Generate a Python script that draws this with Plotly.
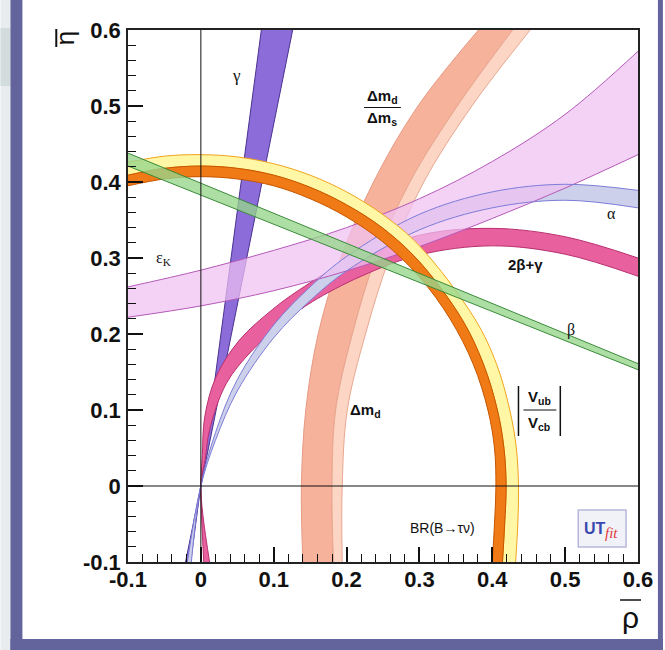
import plotly.graph_objects as go

# ---------------- data (rho-bar, eta-bar) ----------------
# gamma band (two straight edges through the origin)
gam_a_rho = [-0.014, 0.0, 0.083]
gam_a_eta = [-0.1, 0.0, 0.6]
gam_b_rho = [-0.021, 0.0, 0.126]
gam_b_eta = [-0.1, 0.0, 0.6]

# |Vub/Vcb| (yellow) and BR(B->tau nu) (orange) circular bands
vub_in_rho = [-0.1, -0.05, 0.0, 0.05, 0.1, 0.15, 0.2, 0.25, 0.3, 0.342, 0.374, 0.394, 0.403, 0.405, 0.403, 0.400]
vub_in_eta = [0.395, 0.404, 0.407, 0.404, 0.395, 0.378, 0.354, 0.321, 0.275, 0.22, 0.16, 0.1, 0.05, 0.0, -0.05, -0.1]
vub_mid_rho = [-0.1, -0.05, 0.0, 0.05, 0.1, 0.15, 0.2, 0.25, 0.3, 0.358, 0.388, 0.407, 0.416, 0.419, 0.417, 0.414]
vub_mid_eta = [0.409, 0.418, 0.421, 0.418, 0.409, 0.393, 0.370, 0.339, 0.295, 0.22, 0.16, 0.1, 0.05, 0.0, -0.05, -0.1]
vub_out_rho = [-0.1, -0.05, 0.0, 0.05, 0.1, 0.15, 0.2, 0.25, 0.3, 0.376, 0.406, 0.424, 0.433, 0.436, 0.435, 0.432]
vub_out_eta = [0.426, 0.434, 0.436, 0.433, 0.424, 0.409, 0.387, 0.357, 0.316, 0.22, 0.16, 0.1, 0.05, 0.0, -0.05, -0.1]

# Delta m_d and Delta m_d / Delta m_s bands
dm_eta = [-0.1, 0.0, 0.1, 0.2, 0.3, 0.4, 0.5, 0.6]
dmd_out_rho = [0.140, 0.138, 0.144, 0.161, 0.192, 0.237, 0.298, 0.381]
dmd_in_rho = [0.182, 0.180, 0.185, 0.208, 0.240, 0.287, 0.352, 0.428]
dms_out_rho = [0.194, 0.194, 0.201, 0.226, 0.259, 0.306, 0.372, 0.452]

# beta band
beta_rho = [-0.1, 0.6]
beta_up_eta = [0.438, 0.161]
beta_lo_eta = [0.421, 0.153]

# alpha band
alpha_up_rho = [-0.013, 0.0, 0.02, 0.05, 0.1, 0.15, 0.2, 0.3, 0.4, 0.5, 0.6]
alpha_up_eta = [-0.1, 0.0, 0.07, 0.14, 0.212, 0.262, 0.302, 0.3575, 0.387, 0.397, 0.389]
alpha_lo_rho = [-0.0185, 0.0, 0.02, 0.05, 0.1, 0.15, 0.2, 0.3, 0.4, 0.5, 0.6]
alpha_lo_eta = [-0.1, 0.0, 0.06, 0.125, 0.195, 0.244, 0.283, 0.337, 0.366, 0.376, 0.366]

# 2beta+gamma band
bg_out_rho = [0.004, 0.0, 0.002, 0.0053, 0.021, 0.053, 0.098, 0.135, 0.2, 0.3, 0.4, 0.5, 0.6]
bg_out_eta = [-0.1, 0.0, 0.04, 0.091, 0.144, 0.192, 0.232, 0.258, 0.295, 0.33, 0.339, 0.328, 0.30]
bg_in_rho = [0.012, 0.0, 0.006, 0.012, 0.035, 0.071, 0.117, 0.153, 0.22, 0.3, 0.4, 0.5, 0.6]
bg_in_eta = [-0.1, 0.0, 0.035, 0.074, 0.135, 0.179, 0.218, 0.2425, 0.276, 0.304, 0.316, 0.305, 0.276]

# epsilon_K band
ek_rho = [-0.1, 0.0, 0.1, 0.2, 0.3, 0.4, 0.5, 0.6]
ek_up_eta = [0.262, 0.284, 0.310, 0.340, 0.378, 0.427, 0.489, 0.572]
ek_lo_eta = [0.222, 0.237, 0.257, 0.283, 0.315, 0.352, 0.392, 0.436]

tick_vals = [-0.1, 0.0, 0.1, 0.2, 0.3, 0.4, 0.5, 0.6]
tick_text = ["-0.1", "0", "0.1", "0.2", "0.3", "0.4", "0.5", "0.6"]

# ---------------------------------------------------------------------------
fig = go.Figure()


def add_band(ar, ae, br, be, fill, line, width=1.0, shape="spline"):
    # first edge as a plain line, second edge filled back to the first one
    fig.add_trace(go.Scatter(x=list(ar), y=list(ae), mode="lines",
                             line=dict(color=line, width=width, shape=shape),
                             hoverinfo="skip", showlegend=False))
    fig.add_trace(go.Scatter(x=list(br), y=list(be), mode="lines", fill="tonexty",
                             fillcolor=fill, line=dict(color=line, width=width, shape=shape),
                             hoverinfo="skip", showlegend=False))


def add_edges(ar, ae, br, be, line, width=1.0, shape="spline"):
    for r, e in ((ar, ae), (br, be)):
        fig.add_trace(go.Scatter(x=list(r), y=list(e), mode="lines",
                                 line=dict(color=line, width=width, shape=shape),
                                 hoverinfo="skip", showlegend=False))


# Delta m_d (salmon) and Delta m_d/Delta m_s (peach)
add_band(dmd_out_rho, dm_eta, dmd_in_rho, dm_eta, "#f7b29c", "#e79a84")
add_band(dmd_in_rho, dm_eta, dms_out_rho, dm_eta, "#fcd5c4", "#e8a891")
# gamma
add_band(gam_a_rho, gam_a_eta, gam_b_rho, gam_b_eta, "#8c6cd8", "#4b3390", shape="linear")
# 2beta+gamma
add_band(bg_out_rho, bg_out_eta, bg_in_rho, bg_in_eta, "#e8609e", "#b83070")
# alpha fill
add_band(alpha_up_rho, alpha_up_eta, alpha_lo_rho, alpha_lo_eta, "#cdd0ea", "rgba(0,0,0,0)", width=0)
# epsilon_K
add_band(ek_rho, ek_up_eta, ek_rho, ek_lo_eta, "rgba(240,192,242,0.72)", "#b45ab8")
# alpha edges on top
add_edges(alpha_up_rho, alpha_up_eta, alpha_lo_rho, alpha_lo_eta, "#7c7cd8")
# |Vub/Vcb| yellow and BR orange
add_band(vub_out_rho, vub_out_eta, vub_mid_rho, vub_mid_eta, "#fff7a6", "#f0a41c")
add_band(vub_mid_rho, vub_mid_eta, vub_in_rho, vub_in_eta, "#f07a16", "#c65600")
# beta
add_band(beta_rho, beta_up_eta, beta_rho, beta_lo_eta, "rgba(150,214,140,0.78)", "#3a8a3a", shape="linear")

font_tick = dict(family="Liberation Sans", size=22, color="#111111", weight="bold")
axis_common = dict(range=[-0.1, 0.6], tickmode="array", tickvals=tick_vals, ticktext=tick_text,
                   ticks="inside", ticklen=15, tickwidth=1.5, tickcolor="#111111",
                   minor=dict(ticks="inside", ticklen=8, tickwidth=1.2, tickcolor="#111111",
                              dtick=0.02, tick0=0, showgrid=False),
                   showline=True, linewidth=1.5, linecolor="#222222", mirror=True,
                   showgrid=False, zeroline=False, tickfont=font_tick, fixedrange=True)

fig.update_layout(
    width=665, height=650, autosize=False,
    margin=dict(l=128, r=25, t=30, b=88),
    paper_bgcolor="white", plot_bgcolor="white",
    xaxis=dict(**axis_common, ticklabelstandoff=-3),
    yaxis=dict(**axis_common, ticklabelstandoff=1),
    showlegend=False,
)


def px2paper(px, py):
    return (px - 128) / 512.0, (562 - py) / 532.0


shapes = []


def prect(x0, y0, x1, y1, color):
    X0, Y0 = px2paper(x0, y0)
    X1, Y1 = px2paper(x1, y1)
    shapes.append(dict(type="rect", xref="paper", yref="paper", x0=X0, y0=Y0, x1=X1, y1=Y1,
                       fillcolor=color, line=dict(width=0), layer="below"))


# page frame (gray strip + purple border)
prect(0, 0, 10, 650, "#e8ecef")
prect(0, 28, 10, 86, "#d3dcdc")
prect(10, 0, 22, 650, "#64649c")
prect(10, 639, 665, 650, "#64649c")
prect(660, 0, 665, 650, "#64649c")

# zero lines
shapes.append(dict(type="line", xref="x", yref="y", x0=0, x1=0, y0=-0.1, y1=0.6,
                   line=dict(color="#111111", width=1), layer="above"))
shapes.append(dict(type="line", xref="x", yref="y", x0=-0.1, x1=0.6, y0=0, y1=0,
                   line=dict(color="#111111", width=1), layer="above"))


def pline(x0, y0, x1, y1, width=1.2, color="#111111"):
    X0, Y0 = px2paper(x0, y0)
    X1, Y1 = px2paper(x1, y1)
    shapes.append(dict(type="line", xref="paper", yref="paper", x0=X0, y0=Y0, x1=X1, y1=Y1,
                       line=dict(color=color, width=width), layer="above"))


# fraction bars and |..| bars
pline(365, 107.5, 402, 107.5)
pline(525, 410, 558, 410)
pline(520, 386, 520, 436, width=1.5)
pline(562, 386, 562, 436, width=1.5)
# axis-title overbars
pline(56, 29, 56, 47, width=2)
pline(622, 600, 643, 600, width=1.5)

# UTfit logo box
X0, Y0 = px2paper(580, 510)
X1, Y1 = px2paper(628, 547)
shapes.append(dict(type="rect", xref="paper", yref="paper", x0=X0, y0=Y0, x1=X1, y1=Y1,
                   fillcolor="#f1f1f8", line=dict(color="#b8b8dc", width=1.5), layer="above"))

fig.update_layout(shapes=shapes)

ann = []


def label(px, py, text, size=15, family="Liberation Sans", bold=False, color="#111111", angle=0,
          xanchor="center"):
    X, Y = px2paper(px, py)
    ann.append(dict(xref="paper", yref="paper", x=X, y=Y, text=text, showarrow=False,
                    xanchor=xanchor, yanchor="middle", textangle=angle,
                    font=dict(family=family, size=size, color=color,
                              weight="bold" if bold else "normal")))


label(237, 76, "γ", size=17, family="Liberation Serif")
label(383, 96, "Δm<sub>d</sub>", size=15, bold=True)
label(383, 118, "Δm<sub>s</sub>", size=15, bold=True)
label(613, 213, "α", size=16, family="Liberation Serif")
label(527, 264, "2β+γ", size=15, bold=True)
label(164, 258, "ε<sub>K</sub>", size=16, family="Liberation Serif")
label(573, 330, "β", size=16, family="Liberation Serif")
label(366, 410, "Δm<sub>d</sub>", size=15, bold=True)
label(541, 397, "V<sub>ub</sub>", size=15, bold=True)
label(541, 423, "V<sub>cb</sub>", size=15, bold=True)
label(444, 528, "BR(B→τν)", size=14)
label(597, 528, "UT", size=16, bold=True, color="#3848b0")
label(613, 533, "<i>fit</i>", size=15, family="Liberation Serif", color="#e03c3c")
# axis titles
label(65, 38, "η", size=26, angle=-90)
label(632, 618, "ρ", size=30)

fig.update_layout(annotations=ann)

fig.write_html("out.html")
